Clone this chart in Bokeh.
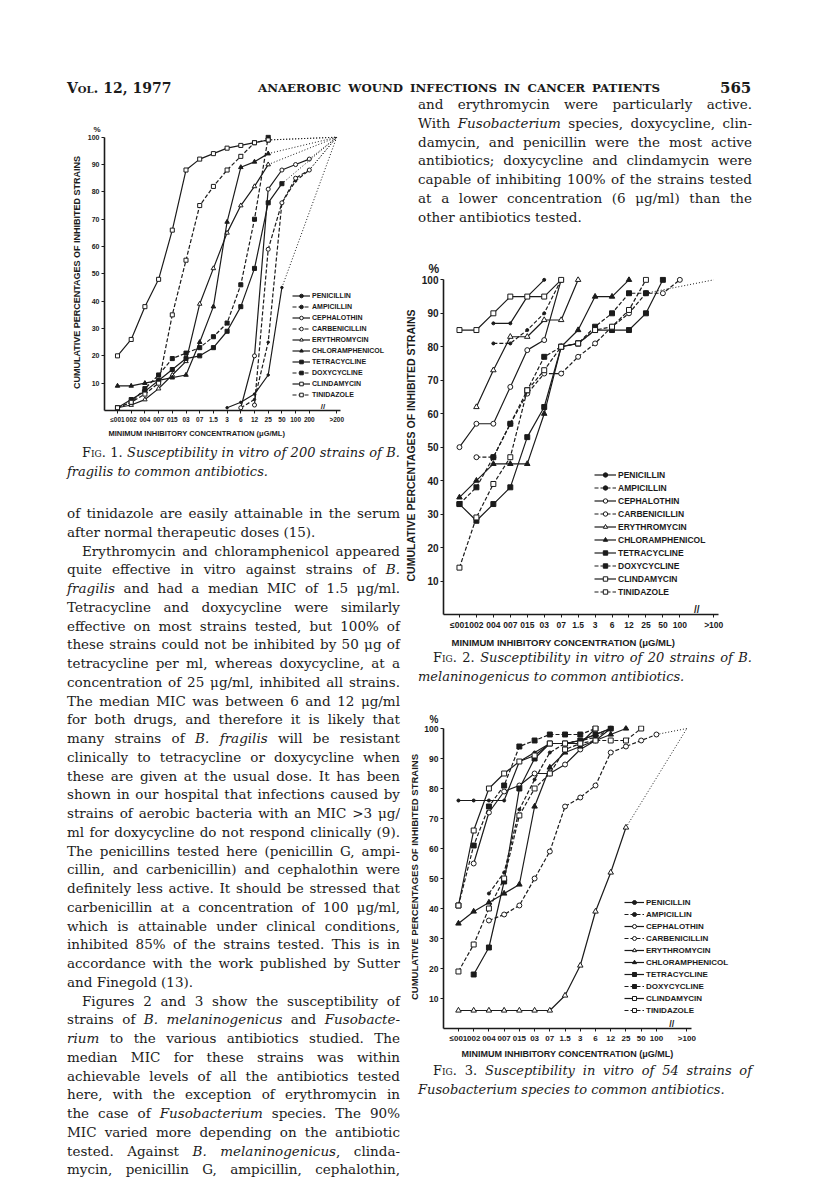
from bokeh.plotting import figure
from bokeh.models import Div, Legend, LegendItem, Label, Range1d, FixedTicker, Title, Spacer
from bokeh.layouts import column, row
from bokeh.embed import file_html
from bokeh.resources import INLINE

# ---------------- data ----------------
ANTIBIOTICS = ["PENICILLIN", "AMPICILLIN", "CEPHALOTHIN", "CARBENICILLIN", "ERYTHROMYCIN",
               "CHLORAMPHENICOL", "TETRACYCLINE", "DOXYCYCLINE", "CLINDAMYCIN", "TINIDAZOLE"]

# Fig. 1  (B. fragilis, 200 strains) - x index 0..14, ">200" at 16
f1_labels = ["≤001", "002", "004", "007", "015", "03", "07", "1.5", "3", "6", "12", "25", "50", "100", "200", ">200"]
f1_ticks = [0, 1, 2, 3, 4, 5, 6, 7, 8, 9, 10, 11, 12, 13, 14, 16]
f1_penicillin      = [None, None, None, None, None, None, None, None, 1, 3, 6, 13, 45, None, None]
f1_ampicillin      = [None, None, None, None, None, None, None, None, None, 1, 4, 25, 76, 84, 88]
f1_cephalothin     = [None, None, None, None, None, None, None, None, None, 1, 20, 81, 88, 90, 92]
f1_carbenicillin   = [None, None, None, None, None, None, None, None, None, None, 2, 59, 76, 85, 88]
f1_erythromycin    = [1, 2, 4, 8, 13, 18, 39, 52, 65, 75, 82, 90, None, None, None]
f1_chloramphenicol = [9, 9, 10, 11, 12, 13, 25, 38, 69, 89, 91, 94, None, None, None]
f1_tetracycline    = [1, 4, 7, 11, 15, 19, 20, 23, 29, 38, 52, 76, 83, None, None]
f1_doxycycline     = [1, 3, 8, 13, 19, 21, 23, 27, 32, 46, 70, 100, None, None, None]
f1_clindamycin     = [20, 26, 38, 48, 66, 88, 92, 94, 96, 97, 98, 99, None, None, None]
f1_tinidazole      = [1, 3, 6, 10, 35, 55, 75, 82, 88, 93, 98, 99, None, None, None]

# Fig. 2  (B. melaninogenicus, 20 strains) - x index 0..13, ">100" at 15
f2_labels = ["≤001", "002", "004", "007", "015", "03", "07", "1.5", "3", "6", "12", "25", "50", "100", ">100"]
f2_ticks = [0, 1, 2, 3, 4, 5, 6, 7, 8, 9, 10, 11, 12, 13, 15]
f2_penicillin      = [None, None, 87, 87, 95, 100, None, None, None, None, None, None, None, None]
f2_ampicillin      = [None, None, 81, 81, 85, 90, 100, None, None, None, None, None, None, None]
f2_cephalothin     = [50, 57, 57, 68, 79, 82, 100, None, None, None, None, None, None, None]
f2_carbenicillin   = [None, 47, 47, 57, 66, 72, 72, 77, 81, 86, 90, 96, 96, 100]
f2_erythromycin    = [None, 62, 73, 83, 83, 88, 88, 100, None, None, None, None, None, None]
f2_chloramphenicol = [35, 40, 45, 45, 45, 60, 80, 85, 95, 95, 100, None, None, None]
f2_tetracycline    = [33, 28, 33, 38, 53, 62, 80, 81, 85, 85, 85, 90, 100, None]
f2_doxycycline     = [33, 38, 47, 57, 67, 77, 80, 81, 86, 90, 96, 96, None, None]
f2_clindamycin     = [85, 85, 90, 95, 95, 95, 100, None, None, None, None, None, None, None]
f2_tinidazole      = [14, 29, 39, 47, 67, 73, 80, 81, 85, 86, 91, 100, None, None]

# Fig. 3  (Fusobacterium, 54 strains) - x index 0..13, ">100" at 15
f3_labels = ["≤001", "002", "004", "007", "015", "03", "07", "1.5", "3", "6", "12", "25", "50", "100", ">100"]
f3_ticks = [0, 1, 2, 3, 4, 5, 6, 7, 8, 9, 10, 11, 12, 13, 15]
f3_penicillin      = [76, 76, 76, 76, 89, 92, 95, 95, 96, 98, 100, None, None, None]
f3_ampicillin      = [None, None, 45, 52, 73, 83, 92, 95, 96, 97, 100, None, None, None]
f3_cephalothin     = [None, 55, 72, 79, 81, 85, 85, 88, 93, 96, 100, None, None, None]
f3_carbenicillin   = [None, None, 36, 38, 41, 50, 59, 74, 77, 81, 92, 94, 96, 98]
f3_erythromycin    = [6, 6, 6, 6, 6, 6, 6, 11, 21, 39, 52, 67, None, None]
f3_chloramphenicol = [35, 39, 42, 45, 48, 74, 87, 92, 94, 96, 98, 100, None, None]
f3_tetracycline    = [None, 18, 27, 49, 80, 90, 95, 95, 96, 98, 100, None, None, None]
f3_doxycycline     = [41, 61, 74, 81, 94, 96, 98, 98, 98, 100, None, None, None, None]
f3_clindamycin     = [41, 66, 80, 85, 89, 91, 95, 95, 95, 100, None, None, None, None]
f3_tinidazole      = [19, 28, 40, 50, 71, 80, 85, 93, 95, 96, 96, 96, 100, None]

y_ticks = [10, 20, 30, 40, 50, 60, 70, 80, 90, 100]

INK = "#1b1b1b"
SANS = "Liberation Sans"
SERIF = "'DejaVu Serif', serif"
YTOP = 101

# line dash, marker, filled, size factor
STYLES = {
    "PENICILLIN": ("solid", "circle", True, 0.55),
    "AMPICILLIN": ("4 2", "circle", True, 0.55),
    "CEPHALOTHIN": ("solid", "circle", False, 0.9),
    "CARBENICILLIN": ("4 2", "circle", False, 0.9),
    "ERYTHROMYCIN": ("solid", "triangle", False, 1.0),
    "CHLORAMPHENICOL": ("solid", "triangle", True, 1.0),
    "TETRACYCLINE": ("solid", "square", True, 0.9),
    "DOXYCYCLINE": ("4 2", "square", True, 0.9),
    "CLINDAMYCIN": ("solid", "square", False, 0.9),
    "TINIDAZOLE": ("4 2", "square", False, 0.9),
}

YLABEL = "CUMULATIVE PERCENTAGES OF INHIBITED STRAINS"
XLABEL = "MINIMUM INHIBITORY CONCENTRATION (\u03bcG/ML)"


def make_fig(width, height, xr, bl, br, bt, bb, pct_fs, pct_off):
    p = figure(width=width, height=height, x_range=Range1d(*xr), y_range=Range1d(0, YTOP),
               output_backend="svg", toolbar_location=None, title="%",
               min_border_left=bl, min_border_right=br, min_border_top=bt, min_border_bottom=bb)
    p.title.align = "left"
    p.title.offset = pct_off
    p.title.standoff = 2
    p.title.text_font = SANS
    p.title.text_font_size = f"{pct_fs}px"
    p.title.text_font_style = "bold"
    p.title.text_color = INK
    p.outline_line_color = None
    p.xgrid.visible = False
    p.ygrid.visible = False
    p.background_fill_color = "white"
    p.border_fill_color = "white"
    return p


def add_axis_titles(p, yfs, ystand, xfs, xstand, xoff):
    p.add_layout(Title(text=YLABEL, align="center", standoff=ystand, text_font=SANS,
                       text_font_size=f"{yfs}px", text_font_style="bold", text_color=INK), "left")
    p.add_layout(Title(text=XLABEL, align="left", offset=xoff, standoff=xstand, text_font=SANS,
                       text_font_size=f"{xfs}px", text_font_style="bold", text_color=INK), "below")


def style_axes(p, ticks, labels, gt, xfs, yfs):
    xa = p.xaxis[0]
    ya = p.yaxis[0]
    xa.ticker = FixedTicker(ticks=ticks)
    xa.major_label_overrides = {t: l for t, l in zip(ticks, labels)}
    xa.bounds = (p.x_range.start, gt + 0.3)
    ya.ticker = FixedTicker(ticks=y_ticks)
    ya.bounds = (0, 100)
    for ax in (xa, ya):
        ax.axis_line_color = INK
        ax.axis_line_width = 1.6
        ax.major_tick_line_color = INK
        ax.major_tick_line_width = 1
        ax.major_tick_in = 0
        ax.major_tick_out = 3
        ax.minor_tick_line_color = None
        ax.major_label_text_font = SANS
        ax.major_label_text_font_style = "bold"
        ax.major_label_text_color = INK
        ax.major_label_standoff = 2
    xa.major_label_text_font_size = f"{xfs}px"
    ya.major_label_text_font_size = f"{yfs}px"


def draw_series(p, series, gt, msize):
    items = []
    for name, vals in zip(ANTIBIOTICS, series):
        xs = [i for i, v in enumerate(vals) if v is not None]
        ys = [v for v in vals if v is not None]
        dash, marker, filled, sf = STYLES[name]
        if ys[-1] < 100:
            p.line([xs[-1], gt], [ys[-1], 100], line_color=INK, line_width=1, line_dash="1 2")
        lr = p.line(xs, ys, line_color=INK, line_width=1.2, line_dash=dash)
        sr = p.scatter(xs, ys, marker=marker, size=msize * sf, line_color=INK, line_width=1,
                       fill_color=INK if filled else "white")
        items.append(LegendItem(label=name, renderers=[lr, sr]))
    return items


def add_legend(p, items, loc, gw, gh, sp, fs):
    leg = Legend(items=items, location=loc, orientation="vertical", glyph_width=gw, glyph_height=gh,
                 label_height=gh, spacing=sp, padding=0, margin=0, label_standoff=2,
                 background_fill_alpha=0, border_line_color=None, label_text_font=SANS,
                 label_text_font_size=f"{fs}px", label_text_font_style="bold", label_text_color=INK,
                 label_text_baseline="middle")
    p.add_layout(leg)


def add_break(p, x, fs):
    p.add_layout(Label(x=x, y=0, text="//", text_align="center", text_baseline="bottom",
                       text_font=SANS, text_font_size=f"{fs}px", text_font_style="bold", text_color=INK))


# ---------------- Fig 1 ----------------
s1, o1 = 13.7, 117.0            # page px per x-index, page x of index 0
x1s = -(o1 - 104) / s1
p1 = make_fig(392, 349, (x1s, x1s + 288 / s1), 96, 8, 38, 35, 8, -11)
it1 = draw_series(p1, [f1_penicillin, f1_ampicillin, f1_cephalothin, f1_carbenicillin, f1_erythromycin,
                       f1_chloramphenicol, f1_tetracycline, f1_doxycycline, f1_clindamycin, f1_tinidazole],
                  16, 4.5)
style_axes(p1, f1_ticks, f1_labels, 16, 6.5, 7)
add_axis_titles(p1, 9, 5, 7.5, 3, 4)
add_legend(p1, it1, (188, 11), 18, 9, 2, 7)
add_break(p1, 15, 8)

# ---------------- Fig 2 ----------------
s2, o2 = 17.0, 458.0
x2s = -(o2 - 442) / s2
p2 = make_fig(408, 410, (x2s, x2s + 358 / s2), 42, 8, 36, 34, 12, -15)
it2 = draw_series(p2, [f2_penicillin, f2_ampicillin, f2_cephalothin, f2_carbenicillin, f2_erythromycin,
                       f2_chloramphenicol, f2_tetracycline, f2_doxycycline, f2_clindamycin, f2_tinidazole],
                  15, 5.5)
style_axes(p2, f2_ticks, f2_labels, 15, 8.5, 10)
add_axis_titles(p2, 10.5, 4, 9.5, 5, 8)
add_legend(p2, it2, (151, 17), 22, 11, 2, 8.5)
add_break(p2, 14, 10)

# ---------------- Fig 3 ----------------
s3, o3 = 15.27, 457.0
x3s = -(o3 - 442) / s3
p3 = make_fig(408, 378, (x3s, x3s + 358 / s3), 42, 8, 35, 40, 10, -14)
it3 = draw_series(p3, [f3_penicillin, f3_ampicillin, f3_cephalothin, f3_carbenicillin, f3_erythromycin,
                       f3_chloramphenicol, f3_tetracycline, f3_doxycycline, f3_clindamycin, f3_tinidazole],
                  15, 5.5)
style_axes(p3, f3_ticks, f3_labels, 15, 8, 8.5)
add_axis_titles(p3, 9.5, 3, 9, 2, 18)
add_legend(p3, it3, (181, 13), 20, 10, 2, 8)
add_break(p3, 14, 9)

# ---------------- text ----------------
LH = 18
FS = 13.5


def line(text, left, center, width, div_top, justify=True, indent=0, fs=FS, extra=""):
    ta = "justify" if justify else "left"
    top = center - LH / 2 - div_top
    return (f'<div style="position:absolute;left:{left + indent}px;top:{top:.1f}px;width:{width - indent}px;'
            f'height:{LH}px;white-space:nowrap;text-align:{ta};text-align-last:{ta};font-size:{fs}px;'
            f'line-height:{LH}px;font-family:{SERIF};color:{INK};{extra}">{text}</div>')


def box(html, w, h):
    return Div(text=f'<div style="position:relative;width:{w}px;height:{h}px;overflow:visible">{html}</div>',
               width=w, height=h, margin=0)


def fig_caption(num, rest):
    return (f'<span style="font-variant:small-caps;font-style:normal">Fig. {num}.</span> '
            f'<i>{rest}</i>')


# header (page y 8..96)
hdr = "".join([
    line('<b><span style="font-variant:small-caps">Vol. 12, 1977</span></b>', 59, 88, 120, 8, False, fs=14),
    line('<b>ANAEROBIC WOUND INFECTIONS IN CANCER PATIENTS</b>', 250, 88, 402, 8, True, fs=11.8),
    line('<b>565</b>', 712, 88, 40, 8, False, fs=15),
])
header_div = box(hdr, 800, 88)

# left column text (page y 445..1193)
LT = 445
B0, DY = 513.0, 18.75
left_lines = [
    (fig_caption(1, "Susceptibility in vitro of 200 strains of B."), True, 15, B0 - 3.2 * DY),
    ('<i>fragilis to common antibiotics.</i>', False, 0, B0 - 2.2 * DY),
]
body = [
    ("of tinidazole are easily attainable in the serum", True, 0),
    ("after normal therapeutic doses (15).", False, 0),
    ("Erythromycin and chloramphenicol appeared", True, 15),
    ("quite effective in vitro against strains of <i>B.</i>", True, 0),
    ("<i>fragilis</i> and had a median MIC of 1.5 \u03bcg/ml.", True, 0),
    ("Tetracycline and doxycycline were similarly", True, 0),
    ("effective on most strains tested, but 100% of", True, 0),
    ("these strains could not be inhibited by 50 \u03bcg of", True, 0),
    ("tetracycline per ml, whereas doxycycline, at a", True, 0),
    ("concentration of 25 \u03bcg/ml, inhibited all strains.", True, 0),
    ("The median MIC was between 6 and 12 \u03bcg/ml", True, 0),
    ("for both drugs, and therefore it is likely that", True, 0),
    ("many strains of <i>B. fragilis</i> will be resistant", True, 0),
    ("clinically to tetracycline or doxycycline when", True, 0),
    ("these are given at the usual dose. It has been", True, 0),
    ("shown in our hospital that infections caused by", True, 0),
    ("strains of aerobic bacteria with an MIC &gt;3 \u03bcg/", True, 0),
    ("ml for doxycycline do not respond clinically (9).", True, 0),
    ("The penicillins tested here (penicillin G, ampi-", True, 0),
    ("cillin, and carbenicillin) and cephalothin were", True, 0),
    ("definitely less active. It should be stressed that", True, 0),
    ("carbenicillin at a concentration of 100 \u03bcg/ml,", True, 0),
    ("which is attainable under clinical conditions,", True, 0),
    ("inhibited 85% of the strains tested. This is in", True, 0),
    ("accordance with the work published by Sutter", True, 0),
    ("and Finegold (13).", False, 0),
    ("Figures 2 and 3 show the susceptibility of", True, 15),
    ("strains of <i>B. melaninogenicus</i> and <i>Fusobacte-</i>", True, 0),
    ("<i>rium</i> to the various antibiotics studied. The", True, 0),
    ("median MIC for these strains was within", True, 0),
    ("achievable levels of all the antibiotics tested", True, 0),
    ("here, with the exception of erythromycin in", True, 0),
    ("the case of <i>Fusobacterium</i> species. The 90%", True, 0),
    ("MIC varied more depending on the antibiotic", True, 0),
    ("tested. Against <i>B. melaninogenicus</i>, clinda-", True, 0),
    ("mycin, penicillin G, ampicillin, cephalothin,", True, 0),
]
lh = [line(t, 59, c, 333, LT, j, ind, fs=13) for t, j, ind, c in left_lines]
lh += [line(t, 59, B0 + i * DY, 333, LT, j, ind) for i, (t, j, ind) in enumerate(body)]
left_div = box("".join(lh), 392, 748)

# right column top text (page y 96..240)
RT = 96
right_body = [
    ("and erythromycin were particularly active.", True, 0),
    ("With <i>Fusobacterium</i> species, doxycycline, clin-", True, 0),
    ("damycin, and penicillin were the most active", True, 0),
    ("antibiotics; doxycycline and clindamycin were", True, 0),
    ("capable of inhibiting 100% of the strains tested", True, 0),
    ("at a lower concentration (6 \u03bcg/ml) than the", True, 0),
    ("other antibiotics tested.", False, 0),
]
rh = [line(t, 18, 104 + i * DY, 334, RT, j, ind) for i, (t, j, ind) in enumerate(right_body)]
right_top_div = box("".join(rh), 408, 144)

# captions fig 2 (page 650..690) and fig 3 (page 1068..1193)
c2 = [line(fig_caption(2, "Susceptibility in vitro of 20 strains of B."), 18, 658, 334, 650, True, 15, fs=13),
      line('<i>melaninogenicus to common antibiotics.</i>', 18, 677, 334, 650, False, fs=13)]
cap2_div = box("".join(c2), 408, 40)
c3 = [line(fig_caption(3, "Susceptibility in vitro of 54 strains of"), 18, 1071, 334, 1068, True, 15, fs=13),
      line('<i>Fusobacterium species to common antibiotics.</i>', 18, 1090, 334, 1068, False, fs=13)]
cap3_div = box("".join(c3), 408, 125)

left_col = column(p1, left_div, spacing=0)
right_col = column(right_top_div, p2, cap2_div, p3, cap3_div, spacing=0)
content = column(header_div, row(left_col, right_col, spacing=0), spacing=0)
page = column(Spacer(height=8, width=808), row(Spacer(width=8, height=1185), content, spacing=0), spacing=0)

open("out.html", "w").write(file_html(page, INLINE))
